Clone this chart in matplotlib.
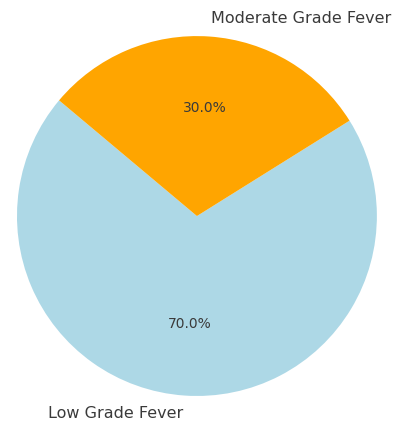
import matplotlib.pyplot as plt

labels = ['Low Grade Fever', 'Moderate Grade Fever']
sizes = [70, 30]
colors = ['lightblue', 'orange']

fig = plt.figure(figsize=(3.96, 4.24), dpi=100)
ax = fig.add_axes([-0.0707, -0.040, 1.136, 1.061])

wedges, texts, autotexts = ax.pie(sizes, labels=labels, colors=colors,
                                  autopct='%1.1f%%', startangle=140,
                                  textprops={'color': '#3a3a3a'})
for t in texts:
    t.set_fontsize(11.5)
for t in autotexts:
    t.set_fontsize(10)
ax.set_xlim(-1.25, 1.25)
ax.set_ylim(-1.25, 1.25)

fig.savefig('out.png', dpi=100)
